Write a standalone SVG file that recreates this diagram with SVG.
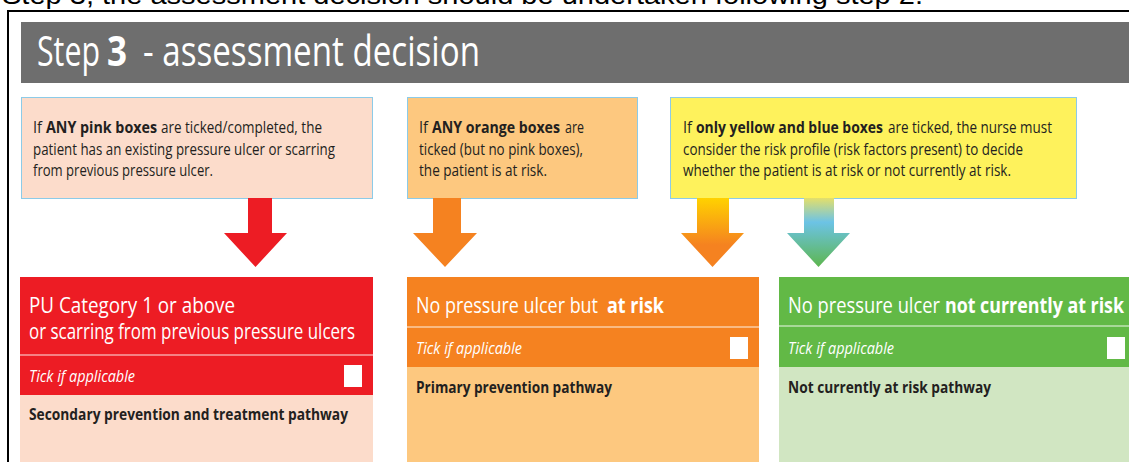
<svg xmlns="http://www.w3.org/2000/svg" width="1129" height="462" viewBox="0 0 1129 462">
<style>
  .t { font-family: "Open Sans", "Liberation Sans", sans-serif; }
  .box { font-size: 15.5px; fill: #231f20; }
  .hdr { font-size: 22px; fill: #ffffff; }
  .tick { font-size: 16px; fill: #ffffff; font-style: italic; }
  .body { font-size: 15.5px; fill: #231f20; font-weight: bold; }
  .b { font-weight: bold; }
  .src { stroke: #8ccbe8; stroke-width: 1; }
  .sq { fill: #ffffff; }
  .sep { stroke: #ffffff; stroke-opacity: 0.6; stroke-width: 1.5; }
</style>
<defs>
  <linearGradient id="gYO" gradientUnits="userSpaceOnUse" x1="0" y1="198" x2="0" y2="245">
    <stop offset="0" stop-color="#ffd200"/>
    <stop offset="1" stop-color="#f58220"/>
  </linearGradient>
  <linearGradient id="gBG" gradientUnits="userSpaceOnUse" x1="0" y1="198" x2="0" y2="267">
    <stop offset="0" stop-color="#e4df6a"/>
    <stop offset="0.35" stop-color="#6cc3e6"/>
    <stop offset="1" stop-color="#5db64e"/>
  </linearGradient>
</defs>
<rect width="1129" height="462" fill="#ffffff"/>
<text x="2" y="4" font-size="25" fill="#000000" textLength="921" lengthAdjust="spacingAndGlyphs" style="font-family:'Liberation Sans',Arial,sans-serif">Step 3, the assessment decision should be undertaken following step 2.</text>
<path d="M8 462 V11 H1129" fill="none" stroke="#000000" stroke-width="2"/>
<g id="header">
  <rect x="21" y="22" width="1108" height="61" fill="#6e6e6e"/>
  <text class="t" x="37" y="66" font-size="42" fill="#ffffff" textLength="63" lengthAdjust="spacingAndGlyphs">Step</text>
  <text class="t b" x="107" y="66" font-size="42" fill="#ffffff" textLength="20" lengthAdjust="spacingAndGlyphs">3</text>
  <text class="t" x="143" y="66" font-size="42" fill="#ffffff" textLength="337" lengthAdjust="spacingAndGlyphs">- assessment decision</text>
</g>
<g id="cond-pink">
  <rect class="src" x="21.5" y="97.5" width="351" height="101" fill="#fcdccb"/>
  <text class="t box" x="33" y="133" textLength="9" lengthAdjust="spacingAndGlyphs">If</text>
  <text class="t box b" x="46" y="133" textLength="111" lengthAdjust="spacingAndGlyphs">ANY pink boxes</text>
  <text class="t box" x="161" y="133" textLength="161" lengthAdjust="spacingAndGlyphs">are ticked/completed, the</text>
  <text class="t box" x="33" y="154.5" textLength="302" lengthAdjust="spacingAndGlyphs">patient has an existing pressure ulcer or scarring</text>
  <text class="t box" x="33" y="176" textLength="180" lengthAdjust="spacingAndGlyphs">from previous pressure ulcer.</text>
</g>
<g id="cond-orange">
  <rect class="src" x="407.5" y="97.5" width="230" height="101" fill="#fdc87f"/>
  <text class="t box" x="419" y="133" textLength="9" lengthAdjust="spacingAndGlyphs">If</text>
  <text class="t box b" x="432" y="133" textLength="128" lengthAdjust="spacingAndGlyphs">ANY orange boxes</text>
  <text class="t box" x="565" y="133" textLength="19" lengthAdjust="spacingAndGlyphs">are</text>
  <text class="t box" x="419" y="154.5" textLength="164" lengthAdjust="spacingAndGlyphs">ticked (but no pink boxes),</text>
  <text class="t box" x="419" y="176" textLength="128" lengthAdjust="spacingAndGlyphs">the patient is at risk.</text>
</g>
<g id="cond-yellow">
  <rect class="src" x="670.5" y="97.5" width="406" height="101" fill="#fef25c"/>
  <text class="t box" x="683" y="133" textLength="9" lengthAdjust="spacingAndGlyphs">If</text>
  <text class="t box b" x="696" y="133" textLength="187" lengthAdjust="spacingAndGlyphs">only yellow and blue boxes</text>
  <text class="t box" x="888" y="133" textLength="164" lengthAdjust="spacingAndGlyphs">are ticked, the nurse must</text>
  <text class="t box" x="683" y="154.5" textLength="340" lengthAdjust="spacingAndGlyphs">consider the risk profile (risk factors present) to decide</text>
  <text class="t box" x="683" y="176" textLength="328" lengthAdjust="spacingAndGlyphs">whether the patient is at risk or not currently at risk.</text>
</g>
<g id="connectors">
  <polygon points="248,198 272,198 272,233 287,233 255.5,267 224,233 248,233" fill="#ed1c24"/>
  <polygon points="433,198 461,198 461,233 477,233 445,267 413,233 433,233" fill="#f58220"/>
  <polygon points="697,198 729,198 729,233 744,233 712.5,267 681,233 697,233" fill="url(#gYO)"/>
  <polygon points="804,198 834,198 834,233 850,233 818.5,267 787,233 804,233" fill="url(#gBG)"/>
</g>
<g id="out-red">
  <rect x="20" y="277" width="353" height="118" fill="#ed1c24"/>
  <rect x="20" y="395" width="353" height="67" fill="#fcdccb"/>
  <line class="sep" x1="20" y1="355" x2="373" y2="355"/>
  <text class="t hdr" x="29" y="313" textLength="206" lengthAdjust="spacingAndGlyphs">PU Category 1 or above</text>
  <text class="t hdr" x="29" y="339" textLength="326" lengthAdjust="spacingAndGlyphs">or scarring from previous pressure ulcers</text>
  <text class="t tick" x="29" y="382" textLength="106" lengthAdjust="spacingAndGlyphs">Tick if applicable</text>
  <rect class="sq" x="344" y="365" width="18" height="22"/>
  <text class="t body" x="29" y="420" textLength="319" lengthAdjust="spacingAndGlyphs">Secondary prevention and treatment pathway</text>
</g>
<g id="out-orange">
  <rect x="407" y="277" width="352" height="90" fill="#f58220"/>
  <rect x="407" y="367" width="352" height="95" fill="#fdc87f"/>
  <line class="sep" x1="407" y1="327" x2="759" y2="327"/>
  <text class="t hdr" x="416" y="313" textLength="182" lengthAdjust="spacingAndGlyphs">No pressure ulcer but</text>
  <text class="t hdr b" x="607" y="313" textLength="57" lengthAdjust="spacingAndGlyphs">at risk</text>
  <text class="t tick" x="416" y="354" textLength="106" lengthAdjust="spacingAndGlyphs">Tick if applicable</text>
  <rect class="sq" x="730" y="337" width="18" height="22"/>
  <text class="t body" x="416" y="393" textLength="196" lengthAdjust="spacingAndGlyphs">Primary prevention pathway</text>
</g>
<g id="out-green">
  <rect x="779" y="277" width="350" height="90" fill="#62b946"/>
  <rect x="779" y="367" width="350" height="95" fill="#d1e6c2"/>
  <line class="sep" x1="779" y1="326" x2="1129" y2="326"/>
  <text class="t hdr" x="788" y="313" textLength="152" lengthAdjust="spacingAndGlyphs">No pressure ulcer</text>
  <text class="t hdr b" x="945" y="313" textLength="179" lengthAdjust="spacingAndGlyphs">not currently at risk</text>
  <text class="t tick" x="788" y="354" textLength="106" lengthAdjust="spacingAndGlyphs">Tick if applicable</text>
  <rect class="sq" x="1107" y="337" width="18" height="22"/>
  <text class="t body" x="788" y="393" textLength="203" lengthAdjust="spacingAndGlyphs">Not currently at risk pathway</text>
</g>
</svg>
